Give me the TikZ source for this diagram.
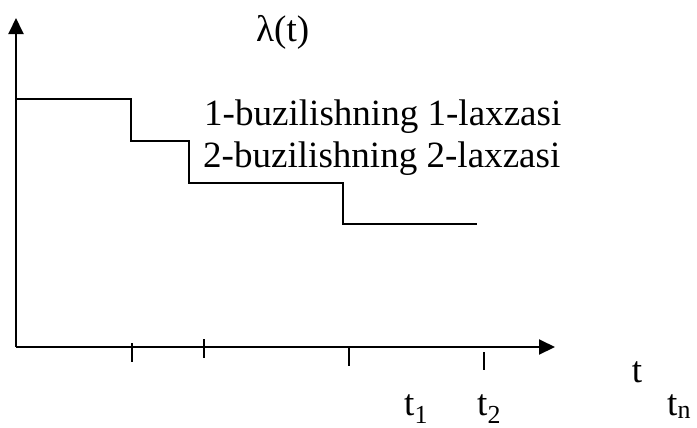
\documentclass[tikz,border=0pt]{standalone}
\usepackage{fontspec}
\setmainfont{Liberation Serif}
\usetikzlibrary{arrows.meta}

\begin{document}
\begin{tikzpicture}[x=1bp,y=-1bp]

\tikzset{axis/.style={line width=2bp,-{Triangle[length=16bp,width=15bp]}}}
\tikzset{stepline/.style={line width=1.6bp}}
\tikzset{tick/.style={line width=1.6bp}}
\tikzset{lbl/.style={inner sep=0pt,font=\fontsize{37.2}{44}\selectfont}}

\useasboundingbox (0,0) rectangle (697,427);

\coordinate (O)    at (16,347) ;
\coordinate (ytop) at (16,18) ;
\coordinate (xend) at (555,347) ;

\draw[axis] (O) -- (ytop);
\draw[axis] (O) -- (xend);

% step function
\coordinate (s0) at (16,99) ;
\coordinate (s1) at (131,99) ;
\coordinate (s2) at (131,141) ;
\coordinate (s3) at (189,141) ;
\coordinate (s4) at (189,183) ;
\coordinate (s5) at (343,183) ;
\coordinate (s6) at (343,224) ;
\coordinate (s7) at (477,224) ;
\draw[stepline] (s0) -- (s1) -- (s2) -- (s3) -- (s4) -- (s5) -- (s6) -- (s7);

% ticks
\draw[tick] (132,343) -- (132,362);
\draw[tick] (204,339) -- (204,358);
\draw[tick] (349,348) -- (349,366);
\draw[tick] (484,352) -- (484,370);

\node[lbl,anchor=base west] (lam)  at (256,41)  {λ(t)} ;
\node[lbl,anchor=base west] (txt1) at (204,125) {1-buzilishning 1-laxzasi} ;
\node[lbl,anchor=base west] (txt2) at (203,167) {2-buzilishning 2-laxzasi} ;
\node[lbl,anchor=base]      (t)    at (637,382) {t} ;
\node[lbl,anchor=base west] (t1)   at (404,415) {t\textsubscript{1}} ;
\node[lbl,anchor=base west] (t2)   at (477,415) {t\textsubscript{2}} ;
\node[lbl,anchor=base west] (tn)   at (667,415) {t\textsubscript{n}} ;

\end{tikzpicture}
\end{document}
